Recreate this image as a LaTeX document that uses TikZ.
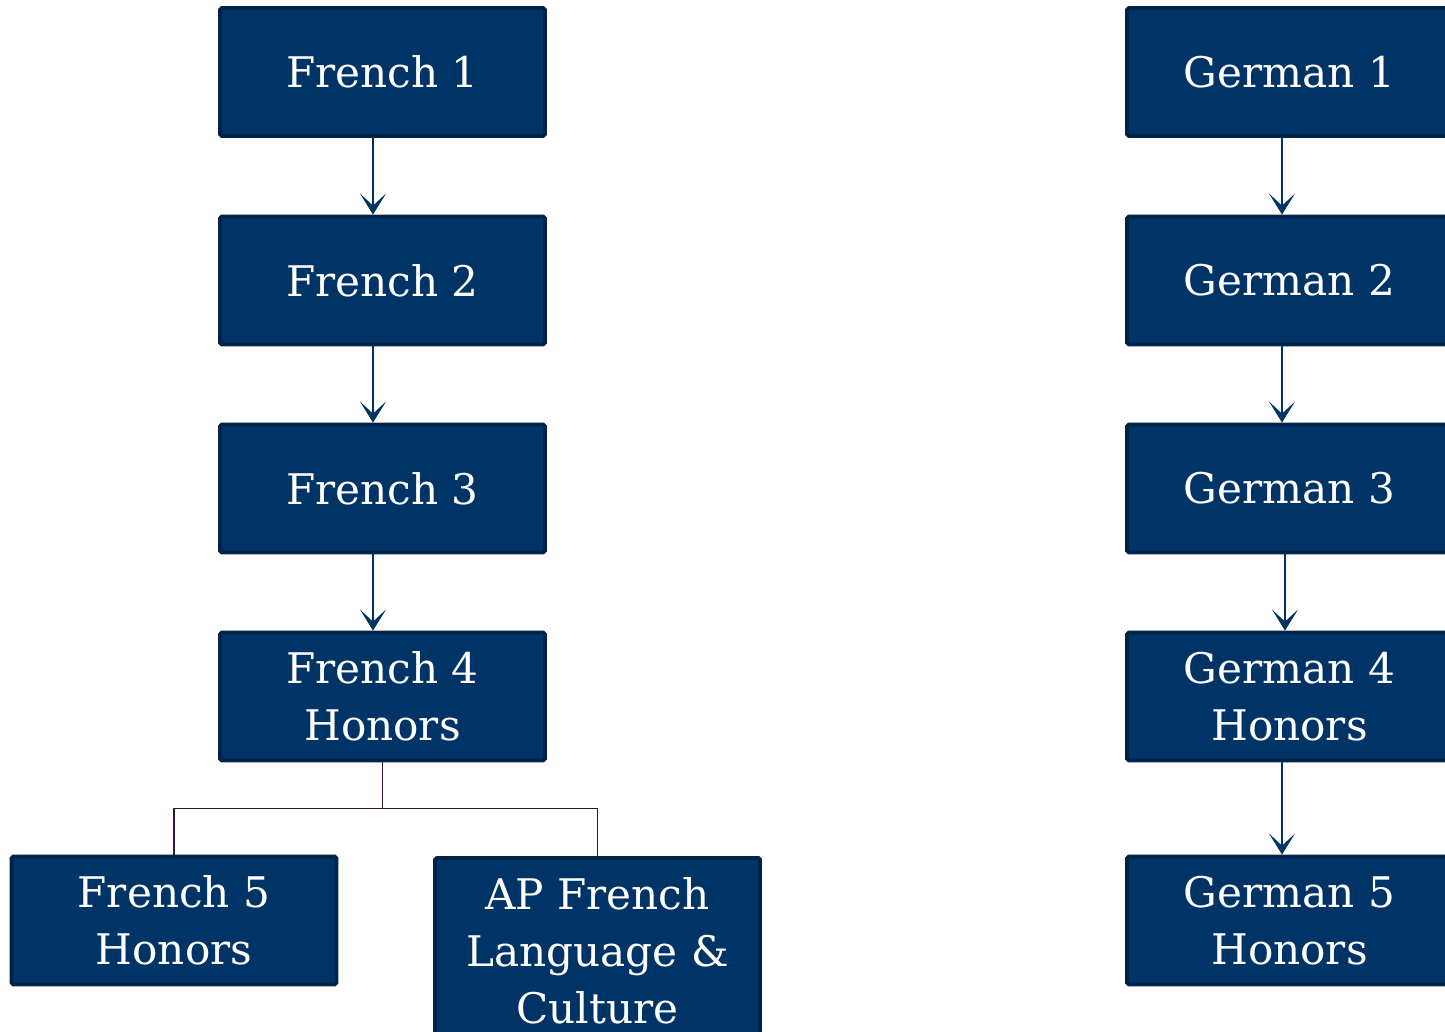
\documentclass[tikz,border=0pt]{standalone}
\usepackage{fontspec}
\setmainfont{DejaVu Serif}
\usetikzlibrary{arrows.meta,positioning,calc}
\definecolor{navy}{RGB}{0,51,102}
\definecolor{navyedge}{RGB}{0,36,72}
\definecolor{treeline}{RGB}{45,25,50}

\begin{document}
\begin{tikzpicture}[x=0.02cm, y=-0.02cm, > = {Stealth[length=4.2mm, width=5.2mm, inset=2.4mm]}]
            % Estilos
            \tikzstyle{course}=[rectangle, draw=navyedge, line width=2.2pt, fill=navy, rounded corners=1pt,
                text=white, align=center, minimum width=6.5cm, minimum height=2.56cm, inner sep=0pt,
                font=\fontsize{24}{32.5}\selectfont]
            \tikzstyle{arr}=[->, draw=navy, line width=1.4pt]
            \tikzstyle{tree}=[draw=treeline, line width=1pt]

            \useasboundingbox (0,0) rectangle (1445,1032);

            % Francês
            \node[course] (f1) at (382.5,72) {French 1};
            \node[course] (f2) at (382.5,280.5) {French 2};
            \node[course] (f3) at (382.5,488.5) {French 3};
            \node[course] (f4) at (382.5,696.5) {French 4\\Honors};
            \node[course] (f5) at (174,920.5) {French 5\\Honors};
            \node[course, anchor=north, minimum height=3.7cm] (ap) at (597.5,856) {AP French\\Language \&\\Culture};

            % Alemão
            \node[course] (g1) at (1289.5,72) {German 1};
            \node[course] (g2) at (1289.5,280.5) {German 2};
            \node[course] (g3) at (1289.5,488.5) {German 3};
            \node[course] (g4) at (1289.5,696.5) {German 4\\Honors};
            \node[course] (g5) at (1289.5,920.5) {German 5\\Honors};

            % Setas
            \draw[arr] ([xshift=-0.19cm]f1.south) -- ([xshift=-0.19cm]f2.north);
            \draw[arr] ([xshift=-0.19cm]f2.south) -- ([xshift=-0.19cm]f3.north);
            \draw[arr] ([xshift=-0.19cm]f3.south) -- ([xshift=-0.19cm]f4.north);
            \draw[arr] ([xshift=-0.15cm]g1.south) -- ([xshift=-0.15cm]g2.north);
            \draw[arr] ([xshift=-0.15cm]g2.south) -- ([xshift=-0.15cm]g3.north);
            \draw[arr] ([xshift=-0.09cm]g3.south) -- ([xshift=-0.09cm]g4.north);
            \draw[arr] ([xshift=-0.15cm]g4.south) -- ([xshift=-0.15cm]g5.north);

            % Ramificação
            \coordinate (split) at ($(f4.south)+(0,46)$);
            \draw[tree] (f4.south) -- (split) -| (f5.north);
            \draw[tree] (split) -| (ap.north);
        \end{tikzpicture}
\end{document}
